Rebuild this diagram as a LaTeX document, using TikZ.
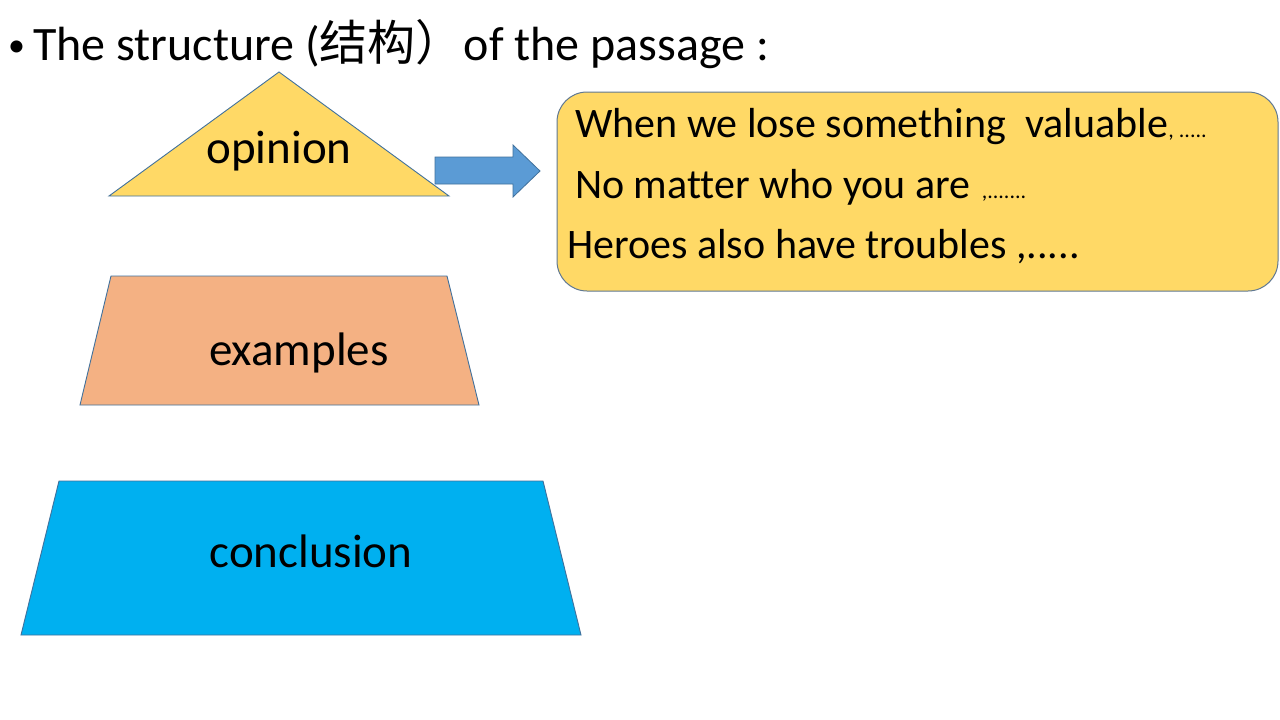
\documentclass[tikz,border=0pt]{standalone}
\usepackage{fontspec}
\setmainfont[Ligatures=NoCommon]{Carlito}
\newfontfamily\cjk{Noto Sans CJK SC}
\definecolor{optYellow}{HTML}{FFD966}
\definecolor{exOrange}{HTML}{F4B183}
\definecolor{conBlue}{HTML}{00B0F0}
\definecolor{arrBlue}{HTML}{5B9BD5}
\definecolor{edgeBlue}{HTML}{41719C}
\definecolor{boxEdge}{HTML}{5F7893}
\tikzset{
  shapeline/.style={draw=edgeBlue, line width=0.9pt, line join=miter},
  bigtext/.style={font=\fontsize{47}{50}\selectfont, inner sep=0pt},
  boxtext/.style={font=\fontsize{42}{46}\selectfont, inner sep=0pt, anchor=base west},
  smalltext/.style={font=\fontsize{22}{24}\selectfont, inner sep=0pt, anchor=base west},
}
\begin{document}
\begin{tikzpicture}[x=1pt,y=-1pt]
\useasboundingbox (0,0) rectangle (1280,720);
\fill[white] (0,0) rectangle (1280,720);
% title
\node[font=\fontsize{34}{34}\selectfont, inner sep=0pt, anchor=base west] (bullet) at (8,56) {\textbullet};
\node[font=\fontsize{48}{52}\selectfont, inner sep=0pt, anchor=base west] (title) at (33,60)
  {The structure ({\cjk 结构）}of the passage :};
% triangle
\path[shapeline, fill=optYellow] (279,72) -- (449,196) -- (109,196) -- cycle;
\node[bigtext] (opinion) at (279,151) {opinion};
% block arrow
\path[draw=edgeBlue, line width=0.8pt, fill=arrBlue]
  (435,157) -- (513,157) -- (513,145) -- (540,171) -- (513,197) -- (513,184) -- (435,184) -- cycle;
% rounded box
\path[draw=boxEdge, line width=1pt, fill=optYellow, rounded corners=30pt] (557,92) rectangle (1278,291);
\node[boxtext] (l1) at (575,137) {When we lose something\ \ valuable};
\node[smalltext] (l1s) at (l1.base east) {, .....};
\node[boxtext] (l2) at (575,198) {No matter who you are};
\node[smalltext] (l2s) at ([xshift=11pt]l2.base east) {,.......};
\node[boxtext] (l3) at (567,258) {Heroes also have troubles ,.....};
% examples trapezoid
\path[shapeline, fill=exOrange] (111,276) -- (447,276) -- (479,405) -- (80,405) -- cycle;
\node[bigtext] (examples) at (299,353) {examples};
% conclusion trapezoid
\path[shapeline, fill=conBlue] (59,481) -- (543,481) -- (581,635) -- (21,635) -- cycle;
\node[bigtext] (conclusion) at (311,551) {conclusion};
\end{tikzpicture}
\end{document}
